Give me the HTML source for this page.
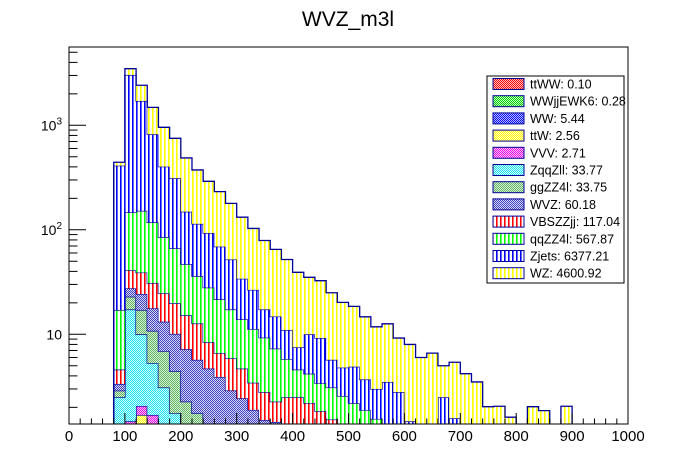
<!DOCTYPE html>
<html><head><meta charset="utf-8"><style>
html,body{margin:0;padding:0;background:#fff;}
svg{display:block;font-family:"Liberation Sans",sans-serif;}
</style></head><body>
<svg id="chart" width="696" height="472" viewBox="0 0 696 472" xmlns="http://www.w3.org/2000/svg">
<defs>
<pattern id="p-wz" width="4" height="4" patternUnits="userSpaceOnUse"><rect width="4" height="4" fill="#fff"/><rect x="0" width="1.6" height="4" fill="#ffff00"/></pattern>
<pattern id="p-zjets" width="4" height="4" patternUnits="userSpaceOnUse"><rect width="4" height="4" fill="#fff"/><rect x="0" width="1.6" height="4" fill="#0000ff"/></pattern>
<pattern id="p-qqzz" width="4" height="4" patternUnits="userSpaceOnUse"><rect width="4" height="4" fill="#fff"/><rect x="0" width="1.6" height="4" fill="#00ff00"/></pattern>
<pattern id="p-vbs" width="4" height="4" patternUnits="userSpaceOnUse"><rect width="4" height="4" fill="#fff"/><rect x="0" width="1.6" height="4" fill="#ff0000"/></pattern>
<pattern id="p-wvz" width="2" height="2" patternUnits="userSpaceOnUse"><rect width="2" height="2" fill="#d8d8ff"/><rect width="1" height="1" fill="#4040b8"/><rect x="1" y="1" width="1" height="1" fill="#4040b8"/></pattern>
<pattern id="p-ggzz" width="2" height="2" patternUnits="userSpaceOnUse"><rect width="2" height="2" fill="#d8f4d8"/><rect width="1" height="1" fill="#60b060"/><rect x="1" y="1" width="1" height="1" fill="#60b060"/></pattern>
<pattern id="p-zqq" width="2" height="2" patternUnits="userSpaceOnUse"><rect width="2" height="2" fill="#d0ffff"/><rect width="1" height="1" fill="#20e0f0"/><rect x="1" y="1" width="1" height="1" fill="#20e0f0"/></pattern>
<pattern id="p-vvv" width="2" height="2" patternUnits="userSpaceOnUse"><rect width="2" height="2" fill="#ffc8ff"/><rect width="1" height="1" fill="#e000e0"/><rect x="1" y="1" width="1" height="1" fill="#e000e0"/></pattern>
<pattern id="p-ttw" width="2" height="2" patternUnits="userSpaceOnUse"><rect width="2" height="2" fill="#ffffc0"/><rect width="1" height="1" fill="#ffff00"/><rect x="1" y="1" width="1" height="1" fill="#ffff00"/></pattern>
<pattern id="p-ww" width="2" height="2" patternUnits="userSpaceOnUse"><rect width="2" height="2" fill="#c0c0ff"/><rect width="1" height="1" fill="#0000ff"/><rect x="1" y="1" width="1" height="1" fill="#0000ff"/></pattern>
<pattern id="p-wwjj" width="2" height="2" patternUnits="userSpaceOnUse"><rect width="2" height="2" fill="#c0ffc0"/><rect width="1" height="1" fill="#00d000"/><rect x="1" y="1" width="1" height="1" fill="#00d000"/></pattern>
<pattern id="p-ttww" width="2" height="2" patternUnits="userSpaceOnUse"><rect width="2" height="2" fill="#ffc0c0"/><rect width="1" height="1" fill="#ff0000"/><rect x="1" y="1" width="1" height="1" fill="#ff0000"/></pattern>
<clipPath id="frameclip"><rect x="69" y="47" width="559" height="377"/></clipPath>
</defs>
<text x="348" y="26" font-size="21" text-anchor="middle">WVZ_m3l</text>
<g id="bars" clip-path="url(#frameclip)"></g>
<rect x="69" y="47" width="559" height="377" fill="none" stroke="#000" stroke-width="1"/>
<g id="axes"></g>
<g id="legend"></g>
</svg>
<script>
// bin low edges (GeV), bins of width 20
const binEdges = [80,100,120,140,160,180,200,220,240,260,280,300,320,340,360,380,400,420,440,460,480,500,520,540,560,580,600,620,640,660,680,700,720,740,760,780,800,820,840,860,880];
// cumulative stack heights (events) per series, bottom to top
const ttWWCum   = [0.5,0.5,0.5,0.5,0.5,0.5,0,0,0,0,0,0,0,0,0,0,0,0,0,0,0,0,0,0,0,0,0,0,0,0,0,0,0,0,0,0,0,0,0,0,0];
const wwjjCum   = [0.6,0.6,0.6,0.6,0.6,0.6,0,0,0,0,0,0,0,0,0,0,0,0,0,0,0,0,0,0,0,0,0,0,0,0,0,0,0,0,0,0,0,0,0,0,0];
const wwCum     = [0.8,0.8,0.8,0.8,0.8,0.8,0,0,0,0,0,0,0,0,0,0,0,0,0,0,0,0,0,0,0,0,0,0,0,0,0,0,0,0,0,0,0,0,0,0,0];
const ttWCum    = [0.9,1.0,1.69,1.0,1.0,0.9,0,0,0,0,0,0,0,0,0,0,0,0,0,0,0,0,0,0,0,0,0,0,0,0,0,0,0,0,0,0,0,0,0,0,0];
const vvvCum    = [1.0,1.47,2.06,1.69,1.1,1.0,0,0,0,0,0,0,0,0,0,0,0,0,0,0,0,0,0,0,0,0,0,0,0,0,0,0,0,0,0,0,0,0,0,0,0];
const zqqCum    = [2.5,17.3,10,5.3,3.1,1.75,1.0,0,0,0,0,0,0,0,0,0,0,0,0,0,0,0,0,0,0,0,0,0,0,0,0,0,0,0,0,0,0,0,0,0,0];
const ggzzCum   = [2.89,22.9,17.1,10.8,6.9,4.45,2.27,1.75,1.3,0,0,0,0,0,0,0,0,0,0,0,0,0,0,0,0,0,0,0,0,0,0,0,0,0,0,0,0,0,0,0,0];
const wvzCum    = [3.35,27.5,24.3,17.7,13.2,10.1,7.2,5.7,4.7,3.9,2.9,2.44,1.89,1.51,1.45,0,0,0,0,0,0,0,0,0,0,0,0,0,0,0,0,0,0,0,0,0,0,0,0,0,0];
const vbsCum    = [4.6,41,39,31,24.7,19.8,15.2,12.7,8.4,6.6,5.9,4.7,3.44,2.8,2.27,2.5,2.5,2.2,1.84,1.53,0,0,0,0,0,0,0,0,0,0,0,0,0,0,0,0,0,0,0,0,0];
const qqzzCum   = [17.1,147,152,118,85,66.5,47,36,28,21.6,17.3,13.9,11.2,9.3,7.3,5.8,4.6,4.2,3.4,3.1,2.57,2.19,1.88,1.55,1.4,1.4,1.3,0,0,0,0,0,0,0,0,0,0,0,0,0,0];
const zjetsCum  = [411,3034,1710,820,402,311,149,114,93,69,52,34,26.6,17.3,14.8,11,7.5,10,9.2,5.7,4.8,4.9,3.7,3.0,3.5,2.8,1.47,0,0,2.5,1.57,0,0,0,0,0,0,0,0,0,0];
const wzCum     = [443,3480,2415,1485,957,751,487,374,291,232,179,132,103,79,65,52,39.2,35.1,32.6,25,20.2,18.5,14.7,11.8,12.6,9.2,8.0,6.0,6.6,5.0,5.4,4.2,3.5,2.03,2.05,1.61,1.35,2.03,1.86,0,2.05];
const seriesNames = ["ttWW","WWjjEWK6","WW","ttW","VVV","ZqqZll","ggZZ4l","WVZ","VBSZZjj","qqZZ4l","Zjets","WZ"];
const seriesYields = ["0.10","0.28","5.44","2.56","2.71","33.77","33.75","60.18","117.04","567.87","6377.21","4600.92"];
const xTickLabels = ["0","100","200","300","400","500","600","700","800","900","1000"];
const yTickLabels = ["10","10²","10³"];
const yTickValues = [10,100,1000];

const seriesCum = [ttWWCum,wwjjCum,wwCum,ttWCum,vvvCum,zqqCum,ggzzCum,wvzCum,vbsCum,qqzzCum,zjetsCum,wzCum];
const fills = ["url(#p-ttww)","url(#p-wwjj)","url(#p-ww)","url(#p-ttw)","url(#p-vvv)","url(#p-zqq)","url(#p-ggzz)","url(#p-wvz)","url(#p-vbs)","url(#p-qqzz)","url(#p-zjets)","url(#p-wz)"];
const NS="http://www.w3.org/2000/svg";
const X0=69, X1=628, YB=424, YT=47;
const binW=20;
function xs(v){return X0+(v-0)/1000*(X1-X0);}
function ys(v){ if(v<=0) return YB+50; return 334.3-(Math.log10(v)-1)*104.5; }
function mk(tag,attrs,parent){const e=document.createElementNS(NS,tag);for(const k in attrs)e.setAttribute(k,attrs[k]);parent.appendChild(e);return e;}

const bars=document.getElementById('bars');
let below=binEdges.map(()=>0);
seriesCum.forEach((cum,si)=>{
  const g=mk('g',{},bars);
  
  
  const tops=[];
  binEdges.forEach((b,i)=>{
    const lo=below[i]; const hi=Math.max(lo,cum[i]); tops.push(hi);
    if(hi>lo && hi>0){
      const yTop=ys(hi), yLo=lo>0?ys(lo):YB+50;
      const r=mk('rect',{x:xs(b),y:yTop,width:xs(b+binW)-xs(b),height:Math.max(0,yLo-yTop),fill:fills[si],stroke:'none'},g);
      
      
    }
  });
  let d='';
  binEdges.forEach((b,i)=>{
    const yy=tops[i]>0?ys(tops[i]):YB+50;
    const xa=xs(b), xb=xs(b+binW);
    if(i===0) d+='M'+xa+' '+(YB+50)+' L'+xa+' '+yy;
    else d+=' L'+xa+' '+yy;
    d+=' L'+xb+' '+yy;
  });
  d+=' L'+xs(binEdges[binEdges.length-1]+binW)+' '+(YB+50);
  const p=mk('path',{d:d,fill:'none',stroke:'#000099','stroke-width':1.3},g);
  
  
  below=tops;
});

const axes=document.getElementById('axes');
for(let v=0;v<=1000;v+=20){
  const major=(v%100===0);
  const t=mk('line',{x1:xs(v),x2:xs(v),y1:YB,y2:YB-(major?11:5.5),stroke:'#000','stroke-width':1},axes);
  
  
}
xTickLabels.forEach((lab,i)=>{
  const t=mk('text',{x:xs(i*100),y:441,'font-size':15,'text-anchor':'middle'},axes);
  t.textContent=lab;
  
  
});
for(let dec=0;dec<=3;dec++){
  for(let k=1;k<=9;k++){
    const v=k*Math.pow(10,dec);
    const y=ys(v);
    if(y>YB||y<YT) continue;
    const t=mk('line',{x1:X0,x2:X0+(k===1?17:8.5),y1:y,y2:y,stroke:'#000','stroke-width':1},axes);
    
    
  }
}
yTickLabels.forEach((lab,i)=>{
  const y=ys(yTickValues[i]);
  const t=mk('text',{x:62,y:y+5,'font-size':14,'text-anchor':'end'},axes);
  t.textContent="10";
  if(lab!=="10"){
    const s=mk('tspan',{'font-size':10,dy:-6},t);
    s.textContent=lab.slice(2)==="²"?"2":"3";
  }
  
  
});

const lg=document.getElementById('legend');


mk('rect',{x:487,y:76,width:137,height:207,fill:'#fff',stroke:'#000','stroke-width':1},lg);
seriesNames.forEach((n,i)=>{
  const y=84+i*17.2;
  const g=mk('g',{},lg);
  
  
  mk('rect',{x:493,y:y-5.5,width:31,height:11,fill:fills[i],stroke:'#000099','stroke-width':1},g);
  const t=mk('text',{x:530,y:y+4.5,'font-size':12.5},g);
  t.textContent=n+': '+seriesYields[i];
});
</script>
</body></html>
